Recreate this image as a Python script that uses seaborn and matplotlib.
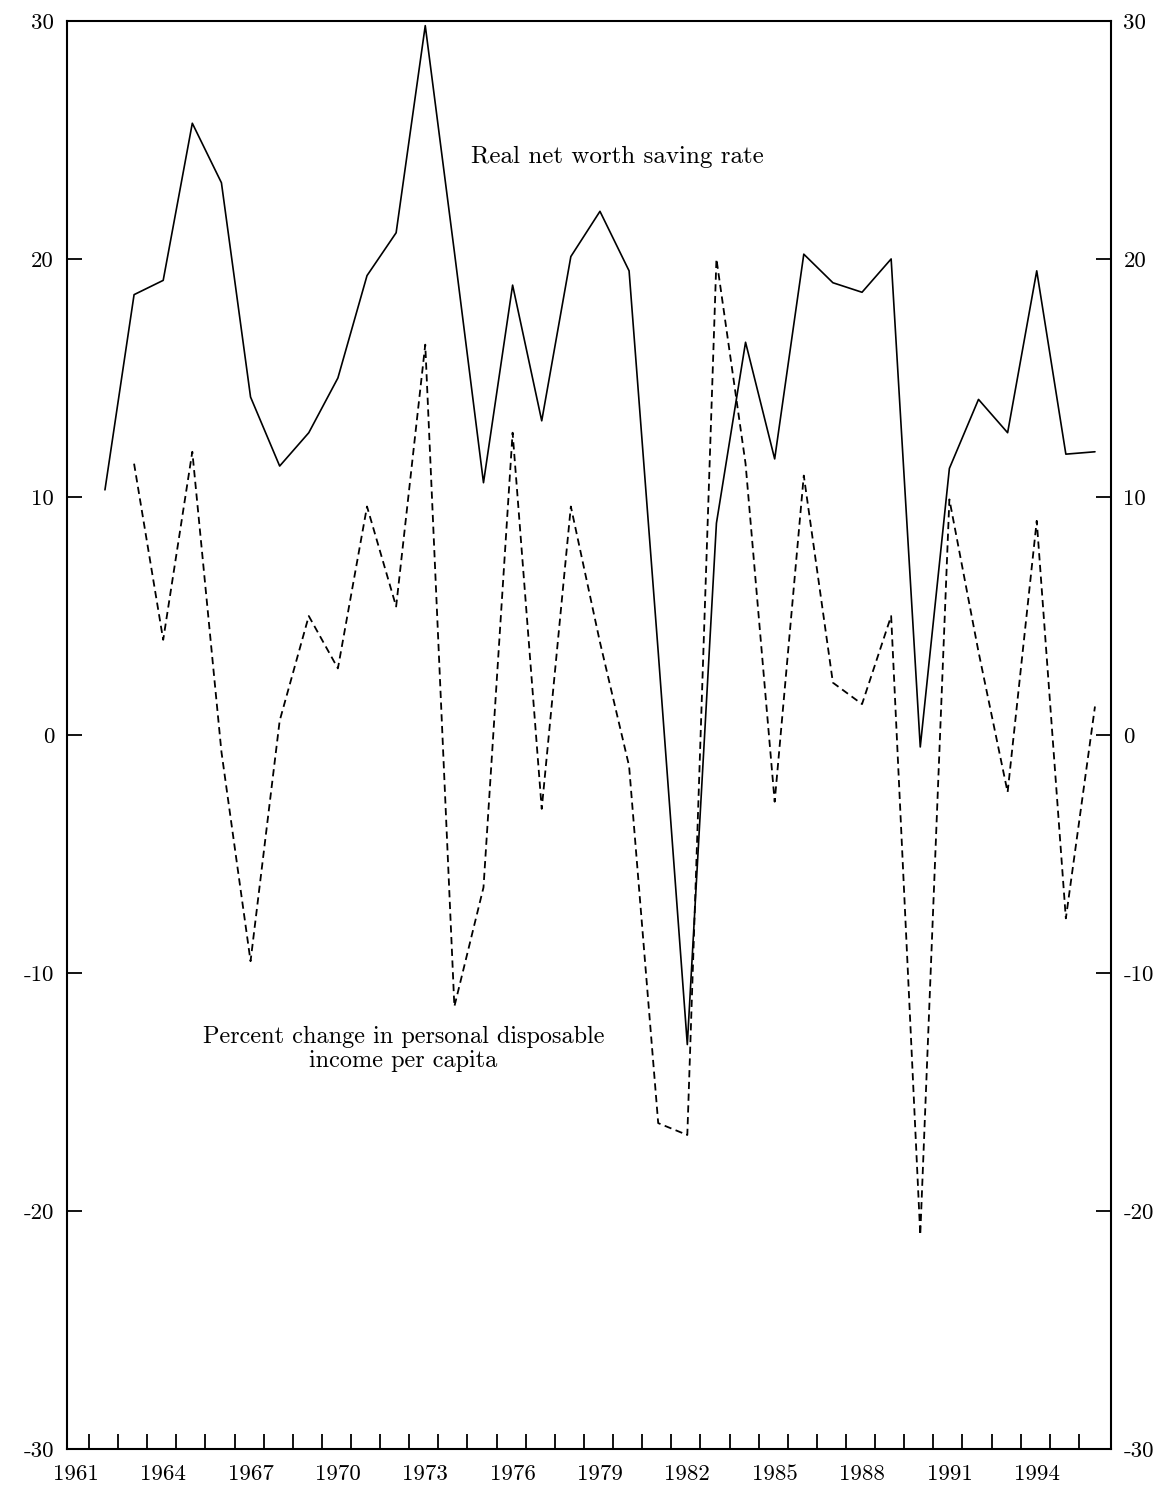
import matplotlib
matplotlib.use("Agg")
import matplotlib.pyplot as plt
import seaborn as sns
import pandas as pd

# values
rate_years = list(range(1962, 1997))
saving_rate = [10.3, 18.5, 19.1, 25.7, 23.2, 14.2, 11.3, 12.7, 15.0, 19.3,
               21.1, 29.8, 20.3, 10.6, 18.9, 13.2, 20.1, 22.0, 19.5, 3.5,
               -13.0, 8.9, 16.5, 11.6, 20.2, 19.0, 18.6, 20.0, -0.5, 11.2,
               14.1, 12.7, 19.5, 11.8, 11.9]

income_years = list(range(1963, 1997))
income_change = [11.4, 4.0, 11.9, -0.7, -9.5, 0.6, 5.0, 2.8, 9.6, 5.4,
                 16.4, -11.4, -6.4, 12.7, -3.1, 9.6, 3.9, -1.3, -16.3, -16.8,
                 20.0, 11.4, -2.8, 10.9, 2.2, 1.3, 5.0, -21.0, 9.9, 3.5,
                 -2.4, 9.0, -7.7, 1.2]

year_labels = list(range(1961, 1997, 3))
y_ticks = [-30, -20, -10, 0, 10, 20, 30]
y_labels = ["-30", "-20", "-10", "0", "10", "20", "30"]

sns.set_style("ticks")
plt.rcParams["font.family"] = ["cmr10", "DejaVu Serif"]
plt.rcParams["axes.unicode_minus"] = False
plt.rcParams["text.color"] = "black"
plt.rcParams["xtick.color"] = "black"
plt.rcParams["ytick.color"] = "black"

df_rate = pd.DataFrame({"year": rate_years, "value": saving_rate})
df_inc = pd.DataFrame({"year": income_years, "value": income_change})

fig = plt.figure(figsize=(11.67, 14.91), dpi=100)
ax = fig.add_axes([0.057, 0.028, 0.895, 0.958])

sns.lineplot(data=df_rate, x="year", y="value", ax=ax, color="black", linewidth=1.2)
sns.lineplot(data=df_inc, x="year", y="value", ax=ax, color="black", linewidth=1.3,
             linestyle=(0, (4, 2.5)))

ax.set_xlim(1960.68, 1996.55)
ax.set_ylim(-30, 30)
ax.set_xlabel("")
ax.set_ylabel("")

ax.set_yticks(y_ticks)
ax.set_yticklabels(y_labels)
ax.tick_params(axis="y", direction="in", length=11, width=1.3, labelsize=16.5,
               pad=9, left=True, right=True, labelleft=True, labelright=True)

ax.set_xticks(year_labels)
ax.set_xticklabels([str(y) for y in year_labels])
ax.tick_params(axis="x", which="major", length=0, labelsize=16.5, pad=11)
ax.set_xticks([y + 0.45 for y in range(1961, 1996)], minor=True)
ax.tick_params(axis="x", which="minor", direction="in", length=11, width=1.3,
               top=False)

for s in ax.spines.values():
    s.set_visible(True)
    s.set_linewidth(1.5)
    s.set_color("black")

ax.text(1979.6, 24.3, "Real net worth saving rate", fontsize=18,
        ha="center", va="center", color="black")
ax.text(1972.25, -13.2, "Percent change in personal disposable\nincome per capita",
        fontsize=17.5, ha="center", va="center", linespacing=1.1, color="black")

fig.savefig("out.png", dpi=100)
